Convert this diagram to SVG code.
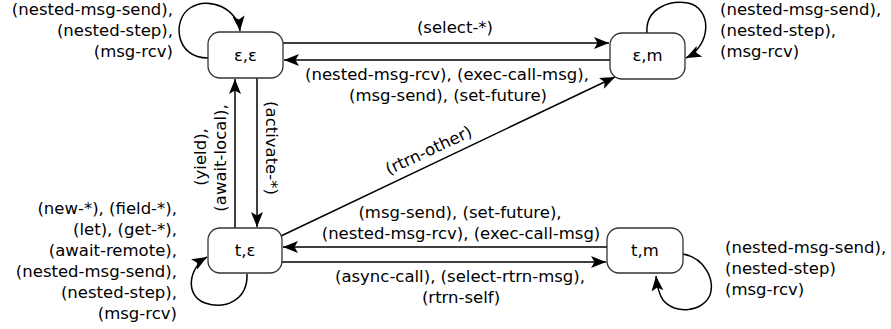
<svg xmlns="http://www.w3.org/2000/svg" width="891" height="329" viewBox="0 0 891 329">
  <defs>
    <marker id="arrow" markerUnits="userSpaceOnUse" markerWidth="16" markerHeight="12" refX="15" refY="6" orient="auto">
      <path d="M0,0 L15,6 L0,12 L3.5,6 Z" fill="#000"/>
    </marker>
    <style>
      .state rect { fill: #fff; stroke: #333; stroke-width: 1.3; }
      .state text, .lbl { font-family: "DejaVu Sans", sans-serif; font-size: 16.5px; fill: #000; }
      .state text { text-anchor: middle; }
      .edge { fill: none; stroke: #000; stroke-width: 1.5; marker-end: url(#arrow); }
      .mid { text-anchor: middle; }
      .end { text-anchor: end; }
    </style>
  </defs>
  <rect width="891" height="329" fill="#fff"/>

  <!-- transitions -->
  <g id="connectors">
    <path class="edge" d="M283,43 L609,43"/>
    <path class="edge" d="M610,60 L284,60"/>
    <path class="edge" d="M235,228 L235,79"/>
    <path class="edge" d="M257,78 L257,227"/>
    <path class="edge" d="M281,236 L615,77"/>
    <path class="edge" d="M607,247 L283,247"/>
    <path class="edge" d="M282,262 L606,262"/>
    <!-- self loops -->
    <path class="edge" d="M208,58 C175,58 172,20 190,8 C210,-5 238,10 240,31"/>
    <path class="edge" d="M647,33 C645,8 670,0 688,3 C712,8 712,45 686,58"/>
    <path class="edge" d="M247,274 C248,300 225,310 205,303 C185,296 188,268 207,257"/>
    <path class="edge" d="M683,254 C705,258 715,280 710,295 C703,312 675,315 663,300 C659,294 657,286 656,276"/>
  </g>

  <!-- states -->
  <g id="s-ee" class="state">
    <rect x="208" y="32" width="75" height="46" rx="12"/>
    <text x="245.5" y="61">ε,ε</text>
  </g>
  <g id="s-em" class="state">
    <rect x="610" y="33" width="75" height="46" rx="12"/>
    <text x="647.5" y="61">ε,m</text>
  </g>
  <g id="s-te" class="state">
    <rect x="208" y="228" width="74" height="45" rx="12"/>
    <text x="245" y="256">t,ε</text>
  </g>
  <g id="s-tm" class="state">
    <rect x="607" y="228" width="76" height="45" rx="12"/>
    <text x="645" y="256">t,m</text>
  </g>

  <!-- transition labels -->
  <g id="labels">
    <text class="lbl end" x="173" y="15">(nested-msg-send),</text>
    <text class="lbl end" x="173" y="36">(nested-step),</text>
    <text class="lbl end" x="173" y="57">(msg-rcv)</text>

    <text class="lbl" x="720" y="15">(nested-msg-send),</text>
    <text class="lbl" x="720" y="36">(nested-step),</text>
    <text class="lbl" x="720" y="57">(msg-rcv)</text>

    <text class="lbl mid" x="455" y="33">(select-*)</text>
    <text class="lbl mid" x="447" y="80">(nested-msg-rcv), (exec-call-msg),</text>
    <text class="lbl mid" x="448" y="101">(msg-send), (set-future)</text>

    <text class="lbl mid" transform="translate(206,157) rotate(-90)">(yield),</text>
    <text class="lbl mid" transform="translate(226,158) rotate(-90)">(await-local),</text>
    <text class="lbl mid" transform="translate(266,148) rotate(90)">(activate-*)</text>

    <text class="lbl mid" transform="translate(431,155.5) rotate(-25)">(rtrn-other)</text>

    <text class="lbl mid" x="460" y="218">(msg-send), (set-future),</text>
    <text class="lbl mid" x="461" y="239">(nested-msg-rcv), (exec-call-msg)</text>
    <text class="lbl mid" x="460" y="282">(async-call), (select-rtrn-msg),</text>
    <text class="lbl mid" x="461" y="303">(rtrn-self)</text>

    <text class="lbl end" x="177" y="214">(new-*), (field-*),</text>
    <text class="lbl end" x="177" y="235">(let), (get-*),</text>
    <text class="lbl end" x="177" y="256">(await-remote),</text>
    <text class="lbl end" x="177" y="277">(nested-msg-send),</text>
    <text class="lbl end" x="177" y="298">(nested-step),</text>
    <text class="lbl end" x="177" y="319">(msg-rcv)</text>

    <text class="lbl" x="725" y="253">(nested-msg-send),</text>
    <text class="lbl" x="725" y="274">(nested-step)</text>
    <text class="lbl" x="725" y="295">(msg-rcv)</text>
  </g>
</svg>
